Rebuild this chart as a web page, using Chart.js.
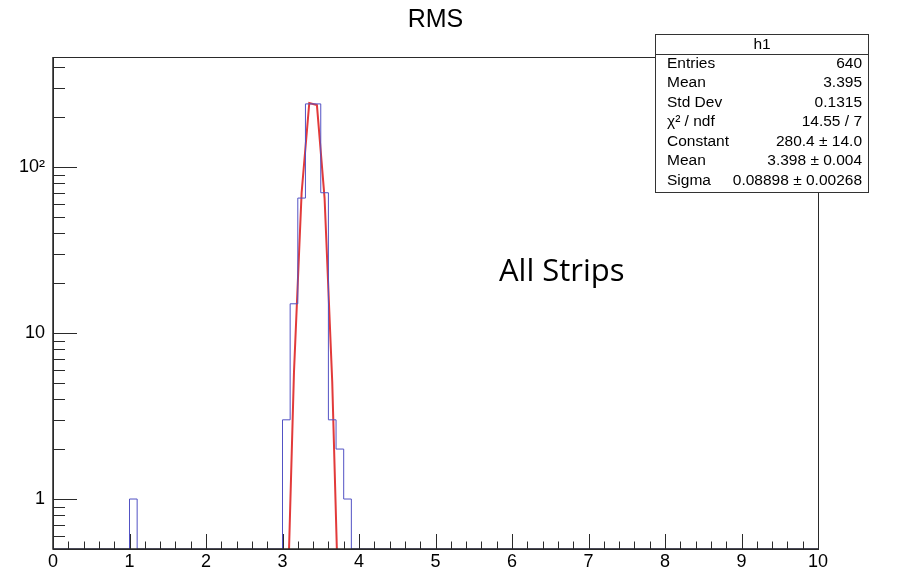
<!DOCTYPE html>
<html>
<head>
<meta charset="utf-8">
<title>RMS</title>
<script src="https://cdn.jsdelivr.net/npm/chart.js@4.4.0/dist/chart.umd.min.js"></script>
<style>
  html, body { margin: 0; padding: 0; background: #fff; }
  #wrap { width: 900px; height: 573px; }
</style>
</head>
<body>
<div id="wrap"><canvas id="grafico" width="900" height="573"></canvas></div>
<script>
// Datos del histograma h1 (bins de 0.1 entre 0 y 10), solo los bins no vacíos
const binLow = [1.0, 3.0, 3.1, 3.2, 3.3, 3.4, 3.5, 3.6, 3.7, 3.8];
const binCount = [1, 3, 15, 65, 240, 240, 70, 3, 2, 1];

// Curva del ajuste gaussiano
const fitX = [3.05, 3.15, 3.25, 3.35, 3.45, 3.55, 3.65, 3.75];
const fitY = [0.13, 5.8, 70, 243, 236, 65, 5.1, 0.11];

// Ejes
const xTicks = [0, 1, 2, 3, 4, 5, 6, 7, 8, 9, 10];
const yTicks = [1, 10, 100];
const yTickLabels = ["1", "10", "10²"];
const yMin = 0.5;
const yMax = 460;

// Caja de estadísticas
const statsTitle = "h1";
const statsNames = ["Entries", "Mean", "Std Dev", "χ² / ndf", "Constant", "Mean", "Sigma"];
const statsValues = ["640", "3.395", "0.1315", "14.55 / 7", "280.4 ± 14.0", "3.398 ± 0.004", "0.08898 ± 0.00268"];

const titulo = "RMS";
const nota = "All Strips";

// Construir los puntos del histograma (bins vacíos se dibujan en el borde inferior)
const nBins = 100;
const histPoints = [];
for (let i = 0; i < nBins; i++) {
  const x = i / 10;
  const k = binLow.findIndex((b) => Math.abs(b - x) < 1e-6);
  const c = k >= 0 ? binCount[k] : 0;
  histPoints.push({ x: x, y: c > 0 ? c : yMin });
}
histPoints.push({ x: 10, y: yMin });

const fitPoints = fitX.map((x, i) => ({ x: x, y: fitY[i] }));

// Marco, ticks internos estilo ROOT, título, caja y texto
const marcoRoot = {
  id: "marcoRoot",
  afterDatasetsDraw(chart) {
    const { ctx, chartArea: a, scales } = chart;
    const sx = scales.x;
    const sy = scales.y;
    ctx.save();
    ctx.strokeStyle = "#2a2a2a";
    ctx.lineWidth = 1;
    ctx.strokeRect(a.left + 0.5, a.top + 0.5, a.right - a.left, a.bottom - a.top);

    ctx.beginPath();
    for (let v = 0; v <= 50; v++) {
      const px = Math.round(sx.getPixelForValue(v / 5)) + 0.5;
      const len = v % 5 === 0 ? 15 : 7.5;
      ctx.moveTo(px, a.bottom);
      ctx.lineTo(px, a.bottom - len);
    }
    for (let d = -1; d <= 2; d++) {
      for (let m = 1; m <= 9; m++) {
        const val = m * Math.pow(10, d);
        if (val < yMin || val > yMax) continue;
        const py = Math.round(sy.getPixelForValue(val)) + 0.5;
        const len = m === 1 ? 24 : 12;
        ctx.moveTo(a.left, py);
        ctx.lineTo(a.left + len, py);
      }
    }
    ctx.stroke();

    // eje inferior e izquierdo algo más marcados
    ctx.lineWidth = 1.5;
    ctx.beginPath();
    ctx.moveTo(a.left, a.top);
    ctx.lineTo(a.left, a.bottom);
    ctx.lineTo(a.right, a.bottom);
    ctx.stroke();

    // título
    ctx.fillStyle = "#000";
    ctx.font = "25px 'Liberation Sans', Arial, sans-serif";
    ctx.textAlign = "center";
    ctx.textBaseline = "alphabetic";
    ctx.fillText(titulo, 435.5, 26.5);

    // caja de estadísticas
    const bx = 655.5, by = 34.5, bw = 213, bh = 158;
    ctx.fillStyle = "#fff";
    ctx.fillRect(bx, by, bw, bh);
    ctx.lineWidth = 1;
    ctx.strokeStyle = "#333";
    ctx.strokeRect(bx, by, bw, bh);
    ctx.beginPath();
    ctx.moveTo(bx, 54.5);
    ctx.lineTo(bx + bw, 54.5);
    ctx.stroke();

    ctx.fillStyle = "#000";
    ctx.font = "15.5px 'Liberation Sans', Arial, sans-serif";
    ctx.textBaseline = "middle";
    ctx.textAlign = "center";
    ctx.fillText(statsTitle, bx + bw / 2, 44.5);
    statsNames.forEach((n, i) => {
      const ty = 63.5 + i * 19.5;
      ctx.textAlign = "left";
      ctx.fillText(n, 667, ty);
      ctx.textAlign = "right";
      ctx.fillText(statsValues[i], 862, ty);
    });

    // anotación
    ctx.textAlign = "left";
    ctx.textBaseline = "alphabetic";
    ctx.font = "31px 'Open Sans', sans-serif";
    ctx.fillText(nota, 499, 281);
    ctx.restore();
  },
};

const ctx = document.getElementById("grafico");
const grafico = new Chart(ctx, {
  type: "line",
  data: {
    datasets: [
      {
        label: "h1",
        data: histPoints,
        stepped: "before",
        borderColor: "#5252c4",
        borderWidth: 1,
        pointRadius: 0,
        fill: false,
      },
      {
        label: "gaus",
        data: fitPoints,
        borderColor: "#e23a3a",
        borderWidth: 2,
        pointRadius: 0,
        tension: 0,
        fill: false,
      },
    ],
  },
  options: {
    responsive: false,
    animation: false,
    devicePixelRatio: 1,
    parsing: false,
    layout: { padding: { top: 57, right: 82, left: 0, bottom: 0 } },
    plugins: {
      legend: { display: false },
      tooltip: { enabled: false },
      title: { display: false },
    },
    scales: {
      x: {
        type: "linear",
        min: 0,
        max: 10,
        grid: { display: false, drawTicks: false },
        border: { display: false },
        ticks: {
          padding: 2,
          color: "#000",
          autoSkip: false,
          maxRotation: 0,
          font: { family: "'Liberation Sans', Arial, sans-serif", size: 18 },
        },
        afterBuildTicks: (s) => {
          s.ticks = xTicks.map((v) => ({ value: v }));
        },
        afterFit: (s) => {
          s.height = 24;
        },
      },
      y: {
        type: "logarithmic",
        min: yMin,
        max: yMax,
        grid: { display: false, drawTicks: false },
        border: { display: false },
        ticks: {
          padding: 8,
          color: "#000",
          autoSkip: false,
          font: { family: "'Liberation Sans', Arial, sans-serif", size: 18 },
          callback: (v, i) => yTickLabels[i],
        },
        afterBuildTicks: (s) => {
          s.ticks = yTicks.map((v) => ({ value: v }));
        },
        afterFit: (s) => {
          s.width = 53;
        },
      },
    },
  },
  plugins: [marcoRoot],
});
</script>
</body>
</html>
